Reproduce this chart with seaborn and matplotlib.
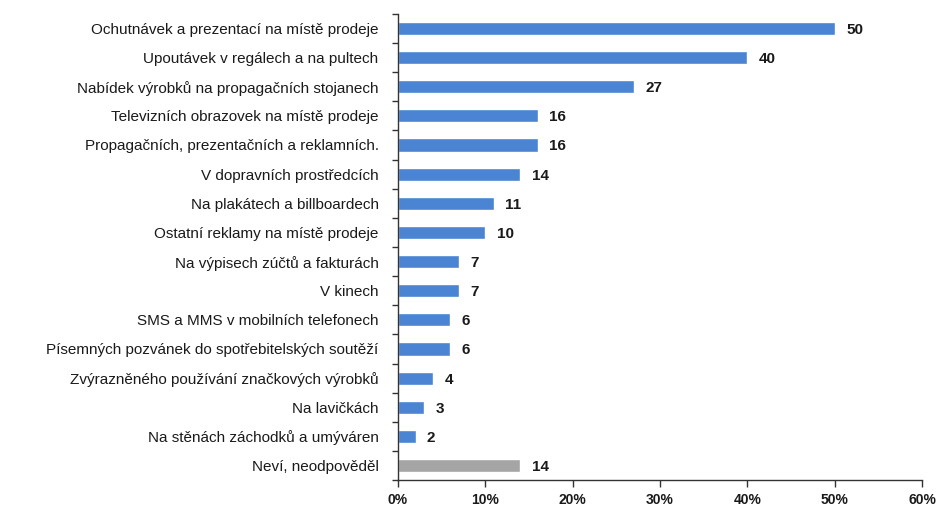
import numpy as np
import pandas as pd
import matplotlib
matplotlib.use("Agg")
import matplotlib.pyplot as plt
import seaborn as sns

categories = [
    "Ochutnávek a prezentací na místě prodeje",
    "Upoutávek v regálech a na pultech",
    "Nabídek výrobků na propagačních stojanech",
    "Televizních obrazovek na místě prodeje",
    "Propagačních, prezentačních a reklamních.",
    "V dopravních prostředcích",
    "Na plakátech a billboardech",
    "Ostatní reklamy na místě prodeje",
    "Na výpisech zúčtů a fakturách",
    "V kinech",
    "SMS a MMS v mobilních telefonech",
    "Písemných pozvánek do spotřebitelských soutěží",
    "Zvýrazněného používání značkových výrobků",
    "Na lavičkách",
    "Na stěnách záchodků a umýváren",
    "Neví, neodpověděl",
]
values = [50, 40, 27, 16, 16, 14, 11, 10, 7, 7, 6, 6, 4, 3, 2, 14]
groups = ["ano"] * 15 + ["neví"]
x_ticks = [0, 10, 20, 30, 40, 50, 60]
x_tick_labels = ["0%", "10%", "20%", "30%", "40%", "50%", "60%"]

df = pd.DataFrame({"kategorie": categories, "hodnota": values, "skupina": groups})

sns.set_theme(style="white")
plt.rcParams["font.family"] = ["Liberation Sans", "DejaVu Sans"]

fig = plt.figure(figsize=(9.41, 5.14), dpi=100)
ax = fig.add_axes([0.423, 0.066, 0.557, 0.907])

sns.barplot(
    data=df, y="kategorie", x="hodnota", hue="skupina",
    palette={"ano": "#4a84d2", "neví": "#a5a5a5"},
    orient="h", width=0.45, dodge=False, legend=False, ax=ax,
    saturation=1,
)

ax.set_xlim(0, 60)
ax.set_ylim(len(categories) - 0.5, -0.5)
ax.set_xlabel("")
ax.set_ylabel("")

for i, v in enumerate(values):
    ax.text(v + 1.3, i + 0.05, f"{v}", va="center", ha="left",
            fontsize=11, fontweight="bold", color="#1a1a1a")

ax.set_xticks(x_ticks)
ax.set_xticklabels(x_tick_labels, fontsize=10, fontweight="bold", color="#1a1a1a")
ax.tick_params(axis="x", which="major", direction="out", length=5, width=1,
               color="#333333", bottom=True, pad=4)

ax.set_yticks(range(len(categories)))
ax.set_yticklabels(categories, fontsize=11, color="#1a1a1a")
ax.tick_params(axis="y", which="major", length=0, pad=14)
ax.set_yticks(np.arange(-0.5, len(categories), 1.0), minor=True)
ax.tick_params(axis="y", which="minor", direction="out", length=4, width=1,
               color="#333333", left=True)

for side in ["top", "right"]:
    ax.spines[side].set_visible(False)
for side in ["left", "bottom"]:
    ax.spines[side].set_color("#333333")
    ax.spines[side].set_linewidth(1)

fig.savefig("out.png", dpi=100, facecolor="white")
